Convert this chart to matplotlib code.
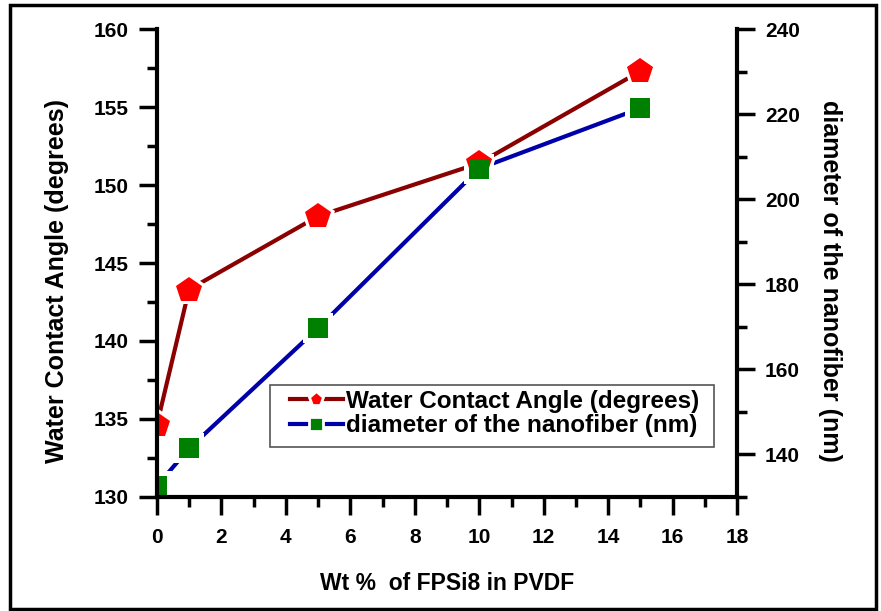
import matplotlib
matplotlib.use("Agg")
import matplotlib.pyplot as plt
from matplotlib.lines import Line2D
from matplotlib.patches import Rectangle
from matplotlib.ticker import MultipleLocator

plt.rcParams['font.family'] = ['Liberation Sans', 'DejaVu Sans']
plt.rcParams['font.weight'] = 'bold'

# data
wt = [0, 1, 5, 10, 15]
angle = [134.6, 143.3, 148.0, 151.4, 157.3]
diam = [132.6, 141.4, 169.7, 207.2, 221.4]

red_line = '#8B0000'
blue_line = '#0000A8'

fig = plt.figure(figsize=(8.81, 6.11), dpi=100)
ax = fig.add_axes([0.178, 0.1866, 0.6588, 0.7659])
ax2 = ax.twinx()

ax.set_xlim(0, 18)
ax.set_ylim(130, 160)
ax2.set_ylim(130, 240)

# everything drawn in ax2 so lines, gaps and symbols stack like the original;
# the angle series uses the left axis scale
tl = ax.transData
ax2.plot(wt, angle, color=red_line, lw=3, solid_capstyle='round', zorder=2, transform=tl)
ax2.plot(wt, diam, color=blue_line, lw=3, solid_capstyle='round', zorder=2)
# white halos -> small gap between line and symbol
ax2.plot(wt, angle, ls='none', marker='p', ms=25, mfc='white', mew=0, zorder=2.1, transform=tl)
ax2.plot(wt, diam, ls='none', marker='s', ms=21, mfc='white', mew=0, zorder=2.1)
ax2.plot(wt, angle, ls='none', marker='p', ms=19, mfc='#FF0000', mew=0, zorder=2.2, transform=tl)
ax2.plot(wt, diam, ls='none', marker='s', ms=15, mfc='#008000', mew=0, zorder=2.3)
ax.set_xlim(0, 18)
ax.set_ylim(130, 160)
ax2.set_ylim(130, 240)

ax.xaxis.set_major_locator(MultipleLocator(2))
ax.xaxis.set_minor_locator(MultipleLocator(1))
ax.yaxis.set_major_locator(MultipleLocator(5))
ax.yaxis.set_minor_locator(MultipleLocator(2.5))
ax2.yaxis.set_minor_locator(MultipleLocator(10))
ax2.set_yticks([140, 160, 180, 200, 220, 240])

for s in ax.spines.values():
    s.set_visible(False)
ax2.spines['top'].set_visible(False)
for s in ('left', 'bottom', 'right'):
    ax2.spines[s].set_linewidth(3)
for a in (ax, ax2):
    a.tick_params(which='major', direction='out', length=13, width=2.5, labelsize=15)
    a.tick_params(which='minor', direction='out', length=7, width=2.5)
ax.tick_params(axis='y', pad=7)
ax.tick_params(axis='x', pad=9)
ax2.tick_params(axis='y', pad=7)

ax.set_xlabel('Wt %  of FPSi8 in PVDF', fontsize=16.5, fontweight='bold', labelpad=18)
ax.set_ylabel('Water Contact Angle (degrees)', fontsize=18, fontweight='bold',
              va='bottom')
ax.yaxis.set_label_coords(-0.152, 0.4615)
ax2.set_ylabel('diameter of the nanofiber (nm)', fontsize=18, fontweight='bold',
               rotation=270, va='bottom')
ax2.yaxis.set_label_coords(1.14, 0.4615)

h1 = Line2D([], [], color=red_line, lw=3, marker='p', ms=11,
            mfc='#FF0000', mec='white', mew=2)
h2 = Line2D([], [], color=blue_line, lw=3, marker='s', ms=9.5,
            mfc='#008000', mec='white', mew=2)
leg = ax2.legend([h1, h2], ['Water Contact Angle (degrees)', 'diameter of the nanofiber (nm)'],
                 loc='upper left', bbox_to_anchor=(0.229, 0.229),
                 fontsize=17.5, numpoints=1, frameon=False,
                 handlelength=2.2, handletextpad=0.1, borderpad=0,
                 labelspacing=0.05, borderaxespad=0)
leg.set_zorder(6)
# legend frame, drawn wider than the content like the original
ax2.add_patch(Rectangle((0.1948, 0.1068), 0.7655, 0.1325, transform=ax2.transAxes,
                        facecolor='white', edgecolor='#555555', lw=1.2, zorder=5,
                        clip_on=False))

fig.patches.append(Rectangle((0.011, 0.004), 0.983, 0.987, transform=fig.transFigure,
                             fill=False, edgecolor='black', lw=2.5))

fig.savefig('out.png', dpi=100)
